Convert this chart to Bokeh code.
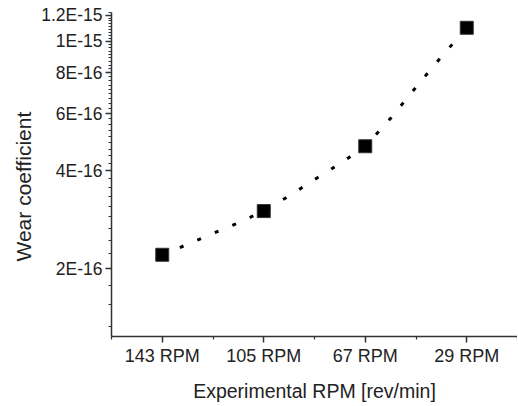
import math
from bokeh.plotting import figure
from bokeh.models import Range1d, FixedTicker, CustomJSTickFormatter, Title
from bokeh.embed import file_html
from bokeh.resources import INLINE

# ---- data ----
categories = ["143 RPM", "105 RPM", "67 RPM", "29 RPM"]
cat_pos = [1, 2, 3, 4]
wear = [2.21e-16, 3.01e-16, 4.76e-16, 1.10e-15]

# dotted curve
fit_x = [1.0, 1.25, 1.5, 1.75, 2.0, 2.25, 2.5, 2.75, 3.0, 3.25, 3.5, 3.75, 4.0]
fit_y = [2.21e-16, 2.38e-16, 2.57e-16, 2.77e-16, 3.01e-16, 3.35e-16, 3.76e-16,
         4.21e-16, 4.76e-16, 5.80e-16, 7.23e-16, 8.96e-16, 1.10e-15]

ytick_vals = [2e-16, 4e-16, 6e-16, 8e-16, 1e-15, 1.2e-15]
ytick_labels = ["2E-16", "4E-16", "6E-16", "8E-16", "1E-15", "1.2E-15"]

FONT = "Liberation Sans"

p = figure(width=517, height=404, output_backend="svg", toolbar_location=None,
           y_axis_type="log",
           x_range=Range1d(0.5, 4.5), y_range=Range1d(1.24e-16, 1.2256e-15))
p.min_border_left = 111
p.min_border_right = 0
p.min_border_top = 12
p.min_border_bottom = 66
p.outline_line_color = None
p.xgrid.grid_line_color = None
p.ygrid.grid_line_color = None
p.background_fill_color = "white"
p.border_fill_color = "white"

# curve and markers
p.line(fit_x, fit_y, line_color="black", line_width=3, line_dash="4 15")
p.scatter(cat_pos, wear, marker="square", size=13, fill_color="black",
          line_color="#333333", line_width=1)

# x axis
xa = p.xaxis[0]
xa.ticker = FixedTicker(ticks=cat_pos, minor_ticks=[0.5, 1.5, 2.5, 3.5, 4.5])
xa.major_label_overrides = {c: lab for c, lab in zip(cat_pos, categories)}
xa.axis_label = "Experimental RPM [rev/min]"

# y axis
ya = p.yaxis[0]
minor = [k * 2e-16 / 9 for k in range(6, 56) if k % 9 != 0]
ya.ticker = FixedTicker(ticks=ytick_vals, minor_ticks=minor)
ya.formatter = CustomJSTickFormatter(args=dict(vals=ytick_vals, labs=ytick_labels), code="""
    let best = 0, bd = Infinity;
    for (let i = 0; i < vals.length; i++) {
        const d = Math.abs(Math.log(vals[i]) - Math.log(tick));
        if (d < bd) { bd = d; best = i; }
    }
    return labs[best];
""")

for ax in (xa, ya):
    ax.axis_line_color = "#333333"
    ax.axis_line_width = 1.5
    ax.major_tick_line_color = "#333333"
    ax.minor_tick_line_color = "#333333"
    ax.major_tick_line_width = 1.5
    ax.minor_tick_line_width = 1.2
    ax.major_tick_in = 0
    ax.major_tick_out = 6
    ax.minor_tick_in = 0
    ax.minor_tick_out = 3
    ax.major_label_text_font = FONT
    ax.major_label_text_color = "#222222"
    ax.major_label_standoff = 3
    ax.axis_label_text_font = FONT
    ax.axis_label_text_font_size = "19.5px"
    ax.axis_label_text_font_style = "normal"
    ax.axis_label_text_color = "#222222"

xa.major_label_text_font_size = "18px"
ya.major_label_text_font_size = "17.5px"
xa.axis_label_standoff = 11

# y-axis title as a side title (sits a bit below the frame centre in the reference)
ytitle = Title(text="Wear coefficient", align="left", offset=75,
               text_font=FONT, text_font_size="21px", text_font_style="normal",
               text_color="#222222", standoff=7)
p.add_layout(ytitle, "left")

open("out.html", "w").write(file_html(p, INLINE))
